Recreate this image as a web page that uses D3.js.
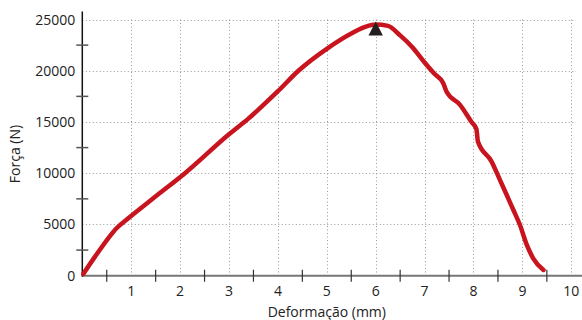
<!DOCTYPE html>
<html><head><meta charset="utf-8">
<script src="https://cdn.jsdelivr.net/npm/d3@7"></script>
<style>
body{margin:0;background:#fff;}
text{font-family:"Open Sans","Noto Sans",sans-serif;fill:#222;}
</style></head>
<body><svg id="c" width="582" height="320"></svg>
<script>
const deformation = [0.02,0.26,0.53,0.70,0.94,1.49,2.1,3.0,3.39,4.0,4.42,5.0,5.54,5.8,6.0,6.25,6.5,6.75,7.0,7.2,7.38,7.45,7.72,7.96,8.06,8.09,8.37,8.54,8.68,8.80,8.95,9.09,9.22,9.43];
const force = [170,1860,3650,4630,5600,7700,10000,13800,15300,18000,20000,22140,23730,24300,24500,24380,23450,22300,20800,19700,18800,17950,16700,15000,14300,13100,11130,9350,7880,6580,4950,3000,1700,560];
const xTickLabels = [1,2,3,4,5,6,7,8,9,10];
const yTickLabels = [0,5000,10000,15000,20000,25000];
const xMinorTicks = [0.5,1.5,2.5,3.5,4.5,5.5,6.5,7.5,8.5,9.5];
const yMinorTicks = [2500,7500,12500,17500,22500];
const peak = {x:6.0, y:24500};
const xTitle = "Deformação (mm)";
const yTitle = "Força (N)";

const svg = d3.select("#c");
const x = d3.scaleLinear().domain([0,10]).range([82.3,571.3]);
const y = d3.scaleLinear().domain([0,25000]).range([275.7,19.5]);

// grid
const grid = svg.append("g").attr("stroke","#999").attr("stroke-width",1).attr("stroke-dasharray","1,2.5");
grid.selectAll(".v").data(xTickLabels).join("line")
  .attr("x1",d=>Math.round(x(d))+0.5).attr("x2",d=>Math.round(x(d))+0.5)
  .attr("y1",y(25000)).attr("y2",y(0));
grid.selectAll(".h").data(yTickLabels.filter(d=>d>0)).join("line")
  .attr("x1",x(0)).attr("x2",576)
  .attr("y1",d=>Math.round(y(d))+0.5).attr("y2",d=>Math.round(y(d))+0.5);

// x axis
svg.append("line").attr("x1",x(0)).attr("x2",582).attr("y1",y(0)).attr("y2",y(0))
  .attr("stroke","#777").attr("stroke-width",2);
svg.selectAll(".xt").data(xMinorTicks).join("line")
  .attr("x1",d=>x(d)).attr("x2",d=>x(d)).attr("y1",y(0)-6).attr("y2",y(0)+6)
  .attr("stroke","#333").attr("stroke-width",1.2);
svg.selectAll(".xl").data(xTickLabels).join("text")
  .attr("x",d=>x(d)).attr("y",y(0)+20).attr("text-anchor","middle")
  .attr("font-size",14).text(d=>d);

// y axis
svg.append("line").attr("x1",x(0)).attr("x2",x(0)).attr("y1",y(25000)-8).attr("y2",y(0)+1)
  .attr("stroke","#111").attr("stroke-width",1.5);
svg.selectAll(".yt").data(yMinorTicks).join("line")
  .attr("x1",x(0)-6).attr("x2",x(0)+6).attr("y1",d=>y(d)).attr("y2",d=>y(d))
  .attr("stroke","#555").attr("stroke-width",1.5);
svg.selectAll(".yl").data(yTickLabels).join("text")
  .attr("x",x(0)-7).attr("y",d=>y(d)+5).attr("text-anchor","end")
  .attr("font-size",14).text(d=>d);

// titles
svg.append("text").attr("x",(x(0)+x(10))/2).attr("y",317).attr("text-anchor","middle")
  .attr("font-size",14).text(xTitle);
svg.append("text").attr("transform","translate(20,154) rotate(-90)").attr("text-anchor","middle")
  .attr("font-size",14).text(yTitle);

// curve
const pts = deformation.map((d,i)=>[d,force[i]]);
svg.append("path").datum(pts)
  .attr("d",d3.line().x(d=>x(d[0])).y(d=>y(d[1])).curve(d3.curveMonotoneX))
  .attr("fill","none").attr("stroke","#c8141e").attr("stroke-width",4.5)
  .attr("stroke-linecap","round").attr("stroke-linejoin","round");

// peak marker
const px = x(peak.x), py = y(peak.y);
svg.append("path").attr("d",`M${px},${py-3} L${px+7.2},${py+11} L${px-7.2},${py+11} Z`).attr("fill","#231f20");
</script></body></html>
